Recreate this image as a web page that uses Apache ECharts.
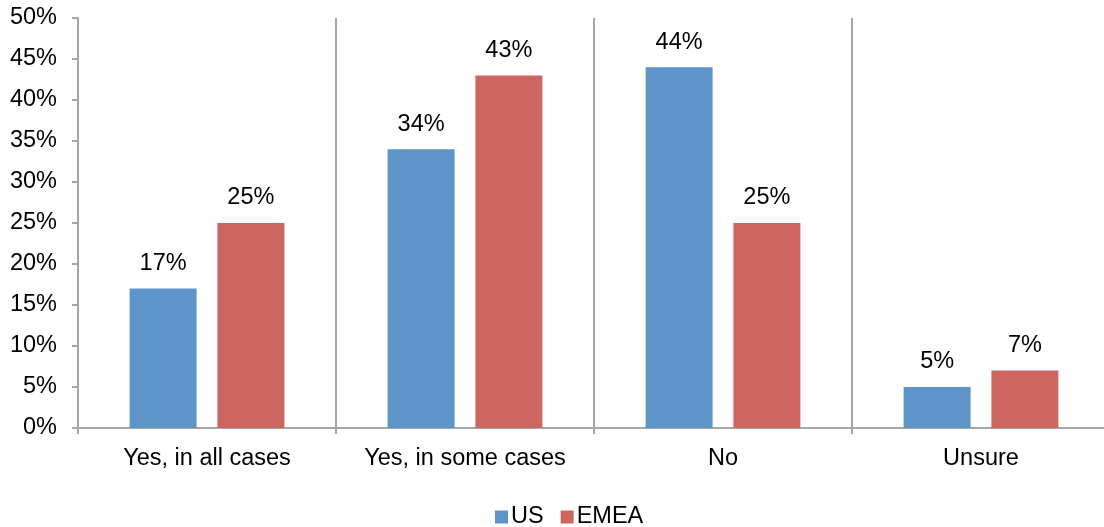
<!DOCTYPE html>
<html>
<head>
<meta charset="utf-8">
<script src="https://cdn.jsdelivr.net/npm/echarts@6/dist/echarts.min.js"></script>
<style>
  html, body { margin: 0; padding: 0; background: #fff; overflow: hidden; }
  /* the plot area runs a few pixels past the right edge of the window */
  #chart { width: 1110px; height: 527px; }
</style>
</head>
<body>
<div id="chart"></div>
<script>
// Survey answers by region (percent)
const categories = ['Yes, in all cases', 'Yes, in some cases', 'No', 'Unsure'];
const usValues = [17, 34, 44, 5];
const emeaValues = [25, 43, 25, 7];
const seriesNames = ['US', 'EMEA'];

const FONT = '"Liberation Sans", Arial, sans-serif';
const FONT_SIZE = 23.5;
const AXIS_GREY = '#A6A6A6';

const chart = echarts.init(document.getElementById('chart'), null, { renderer: 'canvas' });

const labelStyle = {
  show: true,
  position: 'top',
  distance: 13,
  formatter: p => p.value + '%',
  color: '#000',
  fontFamily: FONT,
  fontSize: FONT_SIZE
};

chart.setOption({
  animation: false,
  textStyle: { fontFamily: FONT },
  grid: { left: 78, right: 0, top: 18, bottom: 99, containLabel: false },
  legend: {
    top: 500,
    left: 490,
    itemWidth: 13,
    itemHeight: 13,
    itemGap: 17,
    icon: 'rect',
    textStyle: { fontFamily: FONT, fontSize: FONT_SIZE, color: '#000', padding: [0, 0, 0, -2] },
    data: seriesNames
  },
  xAxis: {
    type: 'category',
    data: categories,
    axisLine: { lineStyle: { color: AXIS_GREY, width: 2 } },
    axisTick: { show: true, interval: 0, length: 6, lineStyle: { color: AXIS_GREY, width: 2 } },
    splitLine: { show: true, interval: 0, lineStyle: { color: AXIS_GREY, width: 2 } },
    axisLabel: { interval: 0, color: '#000', fontSize: FONT_SIZE, fontFamily: FONT, margin: 19 }
  },
  yAxis: {
    type: 'value',
    min: 0,
    max: 50,
    interval: 5,
    axisLine: { show: true, lineStyle: { color: AXIS_GREY, width: 2 } },
    axisTick: { show: true, length: 6, lineStyle: { color: AXIS_GREY, width: 2 } },
    splitLine: { show: false },
    axisLabel: {
      color: '#000', fontSize: FONT_SIZE, fontFamily: FONT, margin: 21,
      padding: [4, 0, 0, 0],
      formatter: v => v + '%'
    }
  },
  series: [
    {
      name: seriesNames[0],
      type: 'bar',
      data: usValues,
      barWidth: 67,
      barGap: '31%',
      itemStyle: { color: '#5E95C9' },
      label: labelStyle
    },
    {
      name: seriesNames[1],
      type: 'bar',
      data: emeaValues,
      barWidth: 67,
      barGap: '31%',
      itemStyle: { color: '#CD6660' },
      label: labelStyle
    }
  ]
});
</script>
</body>
</html>
